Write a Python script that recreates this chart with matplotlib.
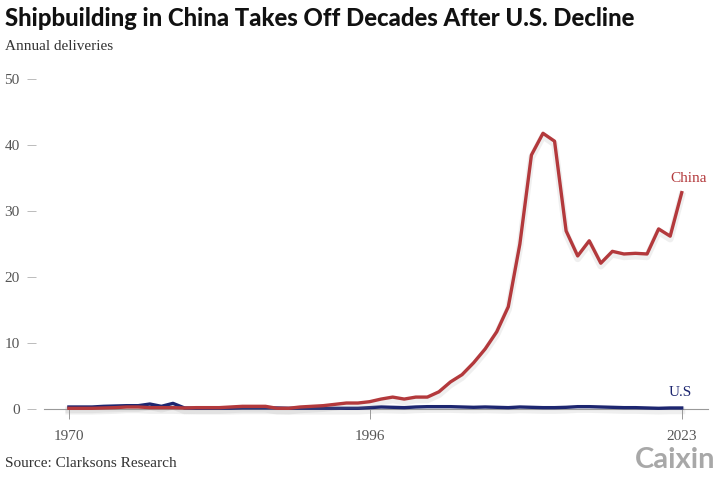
import matplotlib

matplotlib.use("Agg")

import matplotlib.pyplot as plt
import matplotlib.patheffects as pe


YEARS = list(range(1970, 2024))

CHINA = [
    0.1, 0.1, 0.1, 0.15, 0.2, 0.3, 0.3, 0.2, 0.2, 0.2,
    0.15, 0.2, 0.2, 0.2, 0.3, 0.4, 0.4, 0.4, 0.1, 0.1,
    0.3, 0.4, 0.5, 0.7, 0.9, 0.9, 1.1, 1.5, 1.8, 1.5,
    1.8, 1.8, 2.6, 4.1, 5.2, 7.0, 9.1, 11.7, 15.5, 25.0,
    38.5, 41.8, 40.6, 27.0, 23.2, 25.5, 22.1, 23.9, 23.5, 23.6,
    23.5, 27.3, 26.2, 32.8,
]

US = [
    0.3, 0.3, 0.3, 0.4, 0.45, 0.5, 0.5, 0.75, 0.4, 0.85,
    0.15, 0.1, 0.1, 0.1, 0.1, 0.15, 0.15, 0.15, 0.15, 0.1,
    0.1, 0.1, 0.1, 0.1, 0.1, 0.1, 0.2, 0.3, 0.25, 0.2,
    0.3, 0.35, 0.35, 0.35, 0.3, 0.25, 0.3, 0.25, 0.2, 0.3,
    0.25, 0.2, 0.2, 0.25, 0.35, 0.35, 0.3, 0.25, 0.2, 0.2,
    0.15, 0.1, 0.15, 0.15,
]

Y_TICKS = [0, 10, 20, 30, 40, 50]
X_TICKS = [1970, 1996, 2023]

CHINA_COLOR = "#b3393c"
US_COLOR = "#1d2670"
SERIF = "Liberation Serif"

fig = plt.figure(figsize=(7.2, 4.8), dpi=100)
ax = fig.add_axes([0.061, 0.148, 0.922, 0.687])

shadow = [pe.SimpleLineShadow(offset=(0, -2), shadow_color="#999999", alpha=0.15, linewidth=5), pe.Normal()]

ax.plot(YEARS, US, color=US_COLOR, linewidth=2.4, clip_on=False, path_effects=shadow, zorder=3)
ax.plot(YEARS, CHINA, color=CHINA_COLOR, linewidth=2.4, clip_on=False, path_effects=shadow, zorder=4)

ax.set_xlim(1967.84, 2025.25)
ax.set_ylim(0, 50)

for side in ["top", "right", "left"]:
    ax.spines[side].set_visible(False)
ax.spines["bottom"].set_color("#999999")
ax.spines["bottom"].set_linewidth(0.8)
ax.spines["left"].set_position(("outward", 6))

ax.set_yticks(Y_TICKS)
ax.set_xticks(X_TICKS)
ax.tick_params(axis="y", length=6.5, width=0.7, color="#bbbbbb", pad=5,
               labelsize=11, labelcolor="#555555")
ax.tick_params(axis="x", length=7, width=0.7, color="#999999", pad=8,
               labelsize=11, labelcolor="#555555")
for label in ax.get_xticklabels() + ax.get_yticklabels():
    label.set_fontfamily(SERIF)

ax.text(2025.2, CHINA[-1] + 2.2, "China", color=CHINA_COLOR, fontsize=11,
        family=SERIF, ha="right", va="center")
ax.text(2023.9, 2.5, "U.S", color=US_COLOR, fontsize=11,
        family=SERIF, ha="right", va="center")

fig.text(0.007, 0.962, "Shipbuilding in China Takes Off Decades After U.S. Decline",
         fontsize=17.2, fontweight="black", family="Lato", color="#111111", va="center")
fig.text(0.007, 0.904, "Annual deliveries", fontsize=11, family=SERIF,
         color="#333333", va="center")
fig.text(0.007, 0.035, "Source: Clarksons Research", fontsize=11, family=SERIF,
         color="#333333", va="center")
fig.text(0.993, 0.042, "Caixin", fontsize=21, fontweight="bold", family="Lato",
         color="#a8a8a8", ha="right", va="center")

fig.savefig("out.png", dpi=100, facecolor="white")
